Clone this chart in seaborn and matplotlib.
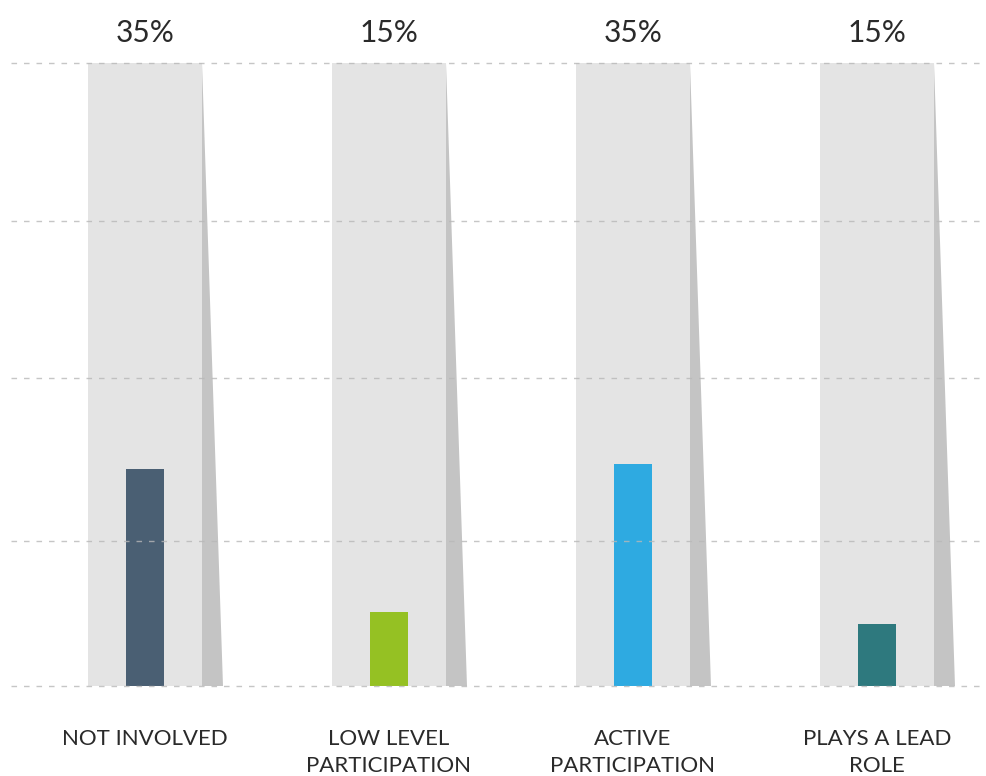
import matplotlib
matplotlib.use("Agg")
import matplotlib.pyplot as plt
import seaborn as sns
import pandas as pd

categories = ["NOT INVOLVED", "LOW LEVEL\nPARTICIPATION", "ACTIVE\nPARTICIPATION", "PLAYS A LEAD\nROLE"]
values = [34.8, 11.9, 35.6, 10.0]
track = [100, 100, 100, 100]
top_labels = ["35%", "15%", "35%", "15%"]
grid_levels = [0, 23.3, 49.4, 74.7, 100]
colors = ["#4a5f73", "#95c123", "#2eaae1", "#2e797e"]

sns.set_theme(style="white")
plt.rcParams["font.family"] = ["Lato", "DejaVu Sans"]

df = pd.DataFrame({"cat": categories, "value": values, "track": track})

fig = plt.figure(figsize=(9.87, 7.76), dpi=100)
ax = fig.add_axes([0, 0, 1, 1])

W, H = 987, 776
px_x = 244.0
x0 = -145 / px_x
x1 = x0 + W / px_x
px_y = 623 / 100.0
y0 = -(H - 686) / px_y
y1 = 100 + 63 / px_y

sns.barplot(data=df, x="cat", y="track", color="#e4e4e4", width=114 / px_x,
            saturation=1, linewidth=0, ax=ax, zorder=1)
track_patches = list(ax.patches)
shadow_w = 21 / px_x
for p in track_patches:
    xr = p.get_x() + p.get_width()
    top = p.get_height()
    ax.fill([xr, xr, xr + shadow_w], [top, 0, 0], color="#c4c4c4", lw=0, zorder=1)

sns.barplot(data=df, x="cat", y="value", hue="cat", palette=colors, width=38 / px_x,
            saturation=1, linewidth=0, legend=False, ax=ax, zorder=2)

ax.set_xlim(x0, x1)
ax.set_ylim(y0, y1)

gx0 = x0 + 11 / px_x
ax.hlines(grid_levels, gx0, x1, colors="#b8b8b8", linestyles=(0, (4, 5)),
          lw=1.0, alpha=0.8, zorder=3)

for i, lab in enumerate(top_labels):
    ax.text(i, 100 + 30 / px_y, lab, ha="center", va="center", fontsize=21.5,
            fontweight="normal", color="#2a2a2a")
for i, lab in enumerate(categories):
    ax.text(i, -(729 - 686) / px_y, lab, ha="center", va="top", fontsize=16,
            fontweight="normal", color="#2a2a2a", linespacing=1.45)

ax.set_axis_off()
fig.savefig("out.png", dpi=100)
